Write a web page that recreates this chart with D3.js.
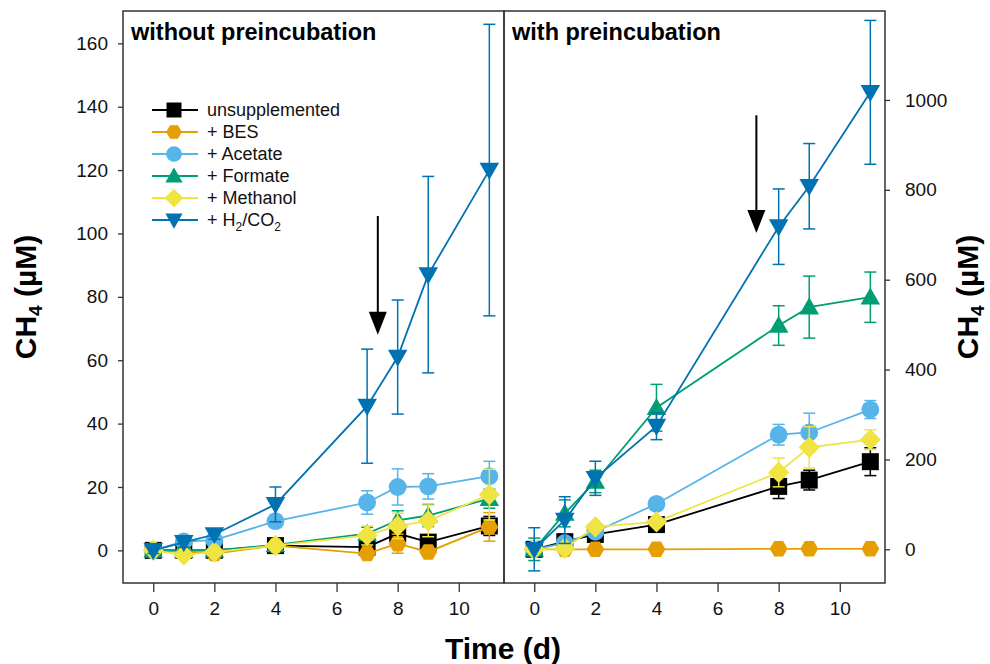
<!DOCTYPE html>
<html>
<head>
<meta charset="utf-8">
<script src="https://cdn.jsdelivr.net/npm/d3@7"></script>
<style>
  body { margin: 0; background: #fff; }
  svg text { font-family: "Liberation Sans", Arial, sans-serif; }
</style>
</head>
<body>
<svg id="chart" width="990" height="664"></svg>
<script>
// days sampled in each panel
var daysLeft = [0, 1, 2, 4, 7, 8, 9, 11];
var daysRight = [0, 1, 2, 4, 8, 9, 11];

var seriesNames = ["unsupplemented", "+ BES", "+ Acetate", "+ Formate", "+ Methanol", "+ H2/CO2"];
var seriesColors = ["#000000", "#E69F00", "#56B4E9", "#009E73", "#F0E442", "#0072B2"];
var seriesShapes = ["square", "hexagon", "circle", "triangleUp", "diamond", "triangleDown"];

// without preincubation (µM), mean and error
var leftUnsupp = [0, 0, 0, 1.5, 1, 5.3, 2.6, 7.7];
var leftUnsuppErr = [1, 1, 1, 1, 2, 2.5, 2, 3];
var leftBES = [0, -0.5, -1, 1.5, -1, 2.1, -0.5, 7.4];
var leftBESErr = [0.5, 0.5, 0.5, 1, 1, 3, 1, 4.5];
var leftAcetate = [0, 2.8, 3.2, 9.2, 15.1, 20, 20.2, 23.4];
var leftAcetateErr = [1, 1.5, 2, 2, 3.7, 5.7, 4, 4.7];
var leftFormate = [0, 0, 0, 1.7, 5.3, 9.5, 11, 16.3];
var leftFormateErr = [1, 0.5, 0.5, 1, 2, 3, 3.5, 3];
var leftMethanol = [0, -1.4, -0.5, 1.5, 4.7, 7.7, 9.3, 17.6];
var leftMethanolErr = [1, 0.5, 0.5, 1, 3, 4, 5, 8];
var leftH2 = [0, 2.5, 5, 14.5, 45.5, 61, 87, 120];
var leftH2Err = [1, 1.5, 1.5, 5.5, 18, 18, 31, 46];

// with preincubation (µM)
var rightUnsupp = [0, 17, 33, 55, 140, 154, 195];
var rightUnsuppErr = [10, 10, 8, 8, 27, 22, 31];
var rightBES = [0, 0, 0, 0, 1, 1, 1];
var rightBESErr = [2, 2, 2, 2, 2, 2, 2];
var rightAcetate = [0, 14, 39, 101, 255, 260, 311];
var rightAcetateErr = [12, 8, 8, 10, 23, 43, 20];
var rightFormate = [0, 80, 151, 315, 498, 539, 561];
var rightFormateErr = [25, 30, 25, 52, 44, 69, 56];
var rightMethanol = [0, 2, 50, 61, 171, 227, 244];
var rightMethanolErr = [10, 8, 8, 8, 32, 46, 22];
var rightH2 = [0, 65, 158, 274, 718, 808, 1017];
var rightH2Err = [48, 52, 38, 30, 84, 95, 160];

var leftTicksY = [0, 20, 40, 60, 80, 100, 120, 140, 160];
var rightTicksY = [0, 200, 400, 600, 800, 1000];
var ticksX = [0, 2, 4, 6, 8, 10];

// arrows marking the addition (day, top value, tip value)
var leftArrow = [7.35, 105.5, 68];
var rightArrow = [7.27, 966, 704];

var svg = d3.select("#chart");
var top_ = 11, bottom = 583;

function shapePath(shape, size) {
  var s = size / 2;
  if (shape == "square") return "M" + (-s) + "," + (-s) + "h" + size + "v" + size + "h" + (-size) + "Z";
  if (shape == "circle") return d3.symbol(d3.symbolCircle, Math.PI * s * s * 1.1)();
  if (shape == "diamond") { var d = s * 1.25; return "M0," + (-d) + "L" + d + ",0L0," + d + "L" + (-d) + ",0Z"; }
  if (shape == "triangleUp") { var t = s * 1.15; return "M0," + (-t) + "L" + t + "," + (t * 0.75) + "L" + (-t) + "," + (t * 0.75) + "Z"; }
  if (shape == "triangleDown") { var t2 = s * 1.15; return "M0," + t2 + "L" + t2 + "," + (-t2 * 0.75) + "L" + (-t2) + "," + (-t2 * 0.75) + "Z"; }
  if (shape == "hexagon") {
    var pts = d3.range(6).map(function(i) {
      var a = Math.PI / 3 * i;
      return [s * 1.05 * Math.cos(a), s * 1.05 * Math.sin(a)];
    });
    return "M" + pts.join("L") + "Z";
  }
}

function styleTicks(a) {
  a.select(".domain").remove();
  a.selectAll("line").attr("stroke", "#333").attr("stroke-width", 1.3);
  a.selectAll("text").attr("font-size", 19).attr("fill", "#111")
    .style("font-family", "Liberation Sans, Arial, sans-serif");
}

function panel(x0, x1, days, series, errs, yDomain, title, arrow) {
  var x = d3.scaleLinear().domain([-0.99, 11.48]).range([x0, x1]);
  var y = d3.scaleLinear().domain(yDomain).range([bottom, top_]);
  var g = svg.append("g");

  series.forEach(function(vals, k) {
    var color = seriesColors[k];
    var pts = days.map(function(d, i) { return {d: d, v: vals[i], e: errs[k][i]}; });
    var sg = g.append("g");
    // error bars
    pts.forEach(function(p) {
      var cx = x(p.d);
      sg.append("line").attr("x1", cx).attr("x2", cx)
        .attr("y1", y(p.v + p.e)).attr("y2", y(p.v - p.e))
        .attr("stroke", color).attr("stroke-width", 1.5);
      [p.v + p.e, p.v - p.e].forEach(function(v) {
        sg.append("line").attr("x1", cx - 6).attr("x2", cx + 6)
          .attr("y1", y(v)).attr("y2", y(v))
          .attr("stroke", color).attr("stroke-width", 1.5);
      });
    });
    sg.append("path").datum(pts)
      .attr("fill", "none").attr("stroke", color).attr("stroke-width", 1.8)
      .attr("d", d3.line().x(function(p) { return x(p.d); }).y(function(p) { return y(p.v); }));
    sg.selectAll(".m").data(pts).enter().append("path")
      .attr("transform", function(p) { return "translate(" + x(p.d) + "," + y(p.v) + ")"; })
      .attr("d", shapePath(seriesShapes[k], 17))
      .attr("fill", color);
  });

  // arrow
  var ax = x(arrow[0]), ay0 = y(arrow[1]), ay1 = y(arrow[2]);
  g.append("line").attr("x1", ax).attr("x2", ax).attr("y1", ay0).attr("y2", ay1 - 20)
    .attr("stroke", "#000").attr("stroke-width", 2);
  g.append("path").attr("d", "M" + (ax - 9) + "," + (ay1 - 23) + "L" + (ax + 9) + "," + (ay1 - 23) + "L" + ax + "," + ay1 + "Z")
    .attr("fill", "#000");

  g.append("text").attr("x", x0 + 8).attr("y", 40)
    .attr("font-size", 23.5).attr("font-weight", "bold").text(title);

  // x axis
  var xa = svg.append("g").attr("transform", "translate(0," + bottom + ")")
    .call(d3.axisBottom(x).tickValues(ticksX).tickSize(9).tickPadding(10).tickFormat(d3.format("d")));
  styleTicks(xa);
  return y;
}

var yl = panel(123, 504, daysLeft,
  [leftUnsupp, leftBES, leftAcetate, leftFormate, leftMethanol, leftH2],
  [leftUnsuppErr, leftBESErr, leftAcetateErr, leftFormateErr, leftMethanolErr, leftH2Err],
  [-10.3, 170.2], "without preincubation", leftArrow);
var yr = panel(504, 885, daysRight,
  [rightUnsupp, rightBES, rightAcetate, rightFormate, rightMethanol, rightH2],
  [rightUnsuppErr, rightBESErr, rightAcetateErr, rightFormateErr, rightMethanolErr, rightH2Err],
  [-75, 1198], "with preincubation", rightArrow);

// y axes
var ayl = svg.append("g").attr("transform", "translate(123,0)")
  .call(d3.axisLeft(yl).tickValues(leftTicksY).tickSize(5).tickPadding(10).tickFormat(d3.format("d")));
var ayr = svg.append("g").attr("transform", "translate(885,0)")
  .call(d3.axisRight(yr).tickValues(rightTicksY).tickSize(5).tickPadding(15).tickFormat(d3.format("d")));
styleTicks(ayl);
styleTicks(ayr);

// frames
svg.append("rect").attr("x", 123).attr("y", top_).attr("width", 381).attr("height", bottom - top_)
  .attr("fill", "none").attr("stroke", "#333").attr("stroke-width", 1.5);
svg.append("rect").attr("x", 504).attr("y", top_).attr("width", 381).attr("height", bottom - top_)
  .attr("fill", "none").attr("stroke", "#333").attr("stroke-width", 1.5);

// legend
var leg = svg.append("g").attr("transform", "translate(152,110)");
seriesNames.forEach(function(name, k) {
  var row = leg.append("g").attr("transform", "translate(0," + (k * 22) + ")");
  row.append("line").attr("x1", 0).attr("x2", 46).attr("stroke", seriesColors[k]).attr("stroke-width", 1.8);
  row.append("path").attr("transform", "translate(22,0)").attr("d", shapePath(seriesShapes[k], 15)).attr("fill", seriesColors[k]);
  var t = row.append("text").attr("x", 55).attr("y", 6).attr("font-size", 18).attr("fill", "#111");
  if (name == "+ H2/CO2") {
    t.append("tspan").text("+ H");
    t.append("tspan").attr("font-size", 12).attr("dy", 5).text("2");
    t.append("tspan").attr("dy", -5).text("/CO");
    t.append("tspan").attr("font-size", 12).attr("dy", 5).text("2");
  } else {
    t.text(name);
  }
});

// axis titles
function ch4Label(x, y) {
  var t = svg.append("text").attr("transform", "translate(" + x + "," + y + ") rotate(-90)")
    .attr("text-anchor", "middle").attr("font-size", 30).attr("font-weight", "bold");
  t.append("tspan").text("CH");
  t.append("tspan").attr("font-size", 19).attr("dy", 6).text("4");
  t.append("tspan").attr("dy", -6).text(" (µM)");
}
ch4Label(36, 297);
ch4Label(978, 297);

svg.append("text").attr("x", 503).attr("y", 659).attr("text-anchor", "middle")
  .attr("font-size", 30).attr("font-weight", "bold").text("Time (d)");
</script>
</body>
</html>
